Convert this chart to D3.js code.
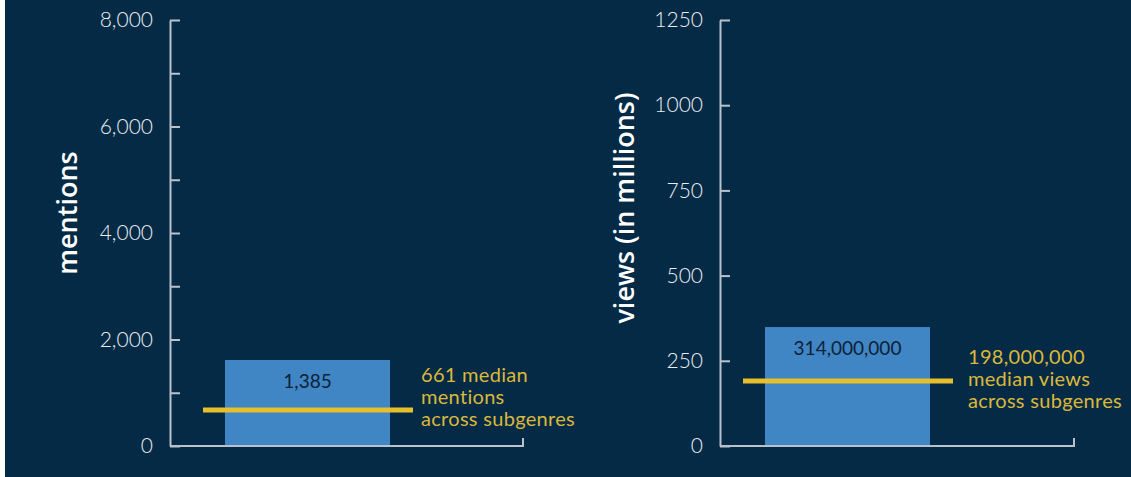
<!DOCTYPE html>
<html>
<head>
<meta charset="utf-8">
<script src="https://cdn.jsdelivr.net/npm/d3@7"></script>
<style>
  html, body { margin: 0; padding: 0; background: #fff; }
  svg { display: block; }
  .tick text { font-family: Lato, "Open Sans", sans-serif; font-weight: 300; font-size: 21px; fill: #e8edf2; }
  .axis path, .axis line { stroke: #b9c2cb; stroke-width: 2; }
  .title { font-family: "Open Sans", Lato, sans-serif; font-weight: 600; font-size: 27px; fill: #fff; }
  .barlabel { font-family: Lato, "Open Sans", sans-serif; font-size: 19px; fill: #0c2238; }
  .note { font-family: Lato, "Open Sans", sans-serif; font-size: 20px; letter-spacing: 0.3px; fill: #d9b83c; }
</style>
</head>
<body>
<div id="chart"></div>
<script>
// data
var categories = ["subgenre"];
var mentionsBar = [1615];
var mentionsMedian = [676];
var mentionsBarLabel = ["1,385"];
var mentionsNote = ["661 median", "mentions", "across subgenres"];
var mentionsTicks = [0, 1000, 2000, 3000, 4000, 5000, 6000, 7000, 8000];

var viewsBar = [349];
var viewsMedian = [191];
var viewsBarLabel = ["314,000,000"];
var viewsNote = ["198,000,000", "median views", "across subgenres"];
var viewsTicks = [0, 250, 500, 750, 1000, 1250];

var width = 1131, height = 477;

var svg = d3.select("#chart").append("svg")
  .attr("width", width)
  .attr("height", height);

svg.append("rect")
  .attr("x", 5).attr("y", 0)
  .attr("width", width - 5).attr("height", height)
  .attr("fill", "#052a45");

function panel(o) {
  var y = d3.scaleLinear().domain(o.domain).range([446, 20]);
  var x = d3.scaleBand().domain(categories).range([o.barX, o.barX + 165]);

  var g = svg.append("g");

  // bar
  g.selectAll("rect.bar")
    .data(o.bar)
    .enter().append("rect")
    .attr("class", "bar")
    .attr("x", function(d, i) { return x(categories[i]); })
    .attr("y", function(d) { return y(d); })
    .attr("width", x.bandwidth())
    .attr("height", function(d) { return y(0) - y(d); })
    .attr("fill", "#4085c4");

  g.selectAll("text.barlabel")
    .data(o.bar)
    .enter().append("text")
    .attr("class", "barlabel")
    .attr("x", function(d, i) { return x(categories[i]) + x.bandwidth() / 2; })
    .attr("y", function(d) { return y(d) + 28; })
    .attr("text-anchor", "middle")
    .text(function(d, i) { return o.barLabel[i]; });

  // y axis, ticks pointing inward
  var yAxis = d3.axisLeft(y)
    .tickValues(o.ticks)
    .tickSizeInner(-10)
    .tickSizeOuter(0)
    .tickPadding(17)
    .tickFormat(o.format);

  g.append("g")
    .attr("class", "axis")
    .attr("transform", "translate(" + o.axisX + ",0)")
    .call(yAxis);

  // bottom line with end tick
  g.append("path")
    .attr("d", "M" + o.axisX + "," + y(0) + "H" + o.axisEnd + "V" + (y(0) - 8))
    .attr("fill", "none")
    .attr("stroke", "#b9c2cb")
    .attr("stroke-width", 2);

  // median line
  g.selectAll("line.median")
    .data(o.median)
    .enter().append("line")
    .attr("class", "median")
    .attr("x1", function(d, i) { return x(categories[i]) - 22; })
    .attr("x2", function(d, i) { return x(categories[i]) + x.bandwidth() + 23; })
    .attr("y1", function(d) { return y(d); })
    .attr("y2", function(d) { return y(d); })
    .attr("stroke", "#e6c02c")
    .attr("stroke-width", 5);

  var note = g.append("text")
    .attr("class", "note")
    .attr("x", x.range()[1] + o.noteDx)
    .attr("y", y(o.median[0]) + o.noteDy);
  note.selectAll("tspan")
    .data(o.note)
    .enter().append("tspan")
    .attr("x", x.range()[1] + o.noteDx)
    .attr("dy", function(d, i) { return i ? 22 : 0; })
    .text(function(d) { return d; });

  g.append("text")
    .attr("class", "title")
    .attr("transform", "translate(" + o.titleX + "," + o.titleY + ") rotate(-90)")
    .attr("text-anchor", "middle")
    .attr("dy", "0.35em")
    .text(o.title);
}

panel({
  domain: [0, 8000], bar: mentionsBar, median: mentionsMedian,
  barLabel: mentionsBarLabel, note: mentionsNote, ticks: mentionsTicks,
  format: function(d) { return d % 2000 === 0 ? d3.format(",")(d) : ""; },
  axisX: 170, axisEnd: 523, barX: 225, noteDx: 31, noteDy: -28,
  title: "mentions", titleX: 68, titleY: 213
});

panel({
  domain: [0, 1250], bar: viewsBar, median: viewsMedian,
  barLabel: viewsBarLabel, note: viewsNote, ticks: viewsTicks,
  format: function(d) { return String(d); },
  axisX: 720, axisEnd: 1074, barX: 765, noteDx: 38, noteDy: -17,
  title: "views (in millions)", titleX: 625, titleY: 208
});
</script>
</body>
</html>
